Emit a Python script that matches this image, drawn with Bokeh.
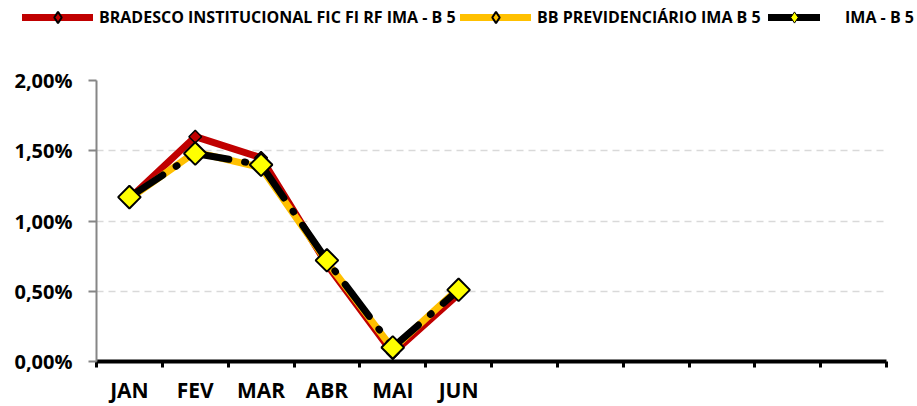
import math
from bokeh.plotting import figure
from bokeh.models import (FixedTicker, CustomJSTickFormatter, Legend, LegendItem,
                          Range1d)
from bokeh.embed import file_html
from bokeh.resources import INLINE

# ---- data ----
months = ["JAN", "FEV", "MAR", "ABR", "MAI", "JUN", "JUL", "AGO", "SET", "OUT", "NOV", "DEZ"]
month_labels = ["JAN", "FEV", "MAR", "ABR", "MAI", "JUN", "", "", "", "", "", ""]
bradesco = [1.16, 1.60, 1.45, 0.69, 0.06, 0.48]
bb_prev = [1.16, 1.49, 1.38, 0.71, 0.09, 0.52]
ima_b5 = [1.17, 1.48, 1.40, 0.72, 0.10, 0.51]
y_ticks = [0.0, 0.5, 1.0, 1.5, 2.0]
series_names = ["BRADESCO INSTITUCIONAL FIC FI RF IMA - B 5",
                "BB PREVIDENCIÁRIO IMA B 5",
                "IMA - B 5"]

x = [months.index(m) + 0.5 for m in months[:len(bradesco)]]

FONT = "Open Sans"
ANG = math.pi / 4
RED, ORANGE, YELLOW = "#C00000", "#FFC000", "#FFFF00"
NAN = float("nan")

LEG_H = 32
p = figure(width=910, height=406 - LEG_H, x_range=Range1d(0, len(months)), y_range=Range1d(0, 2.0),
           output_backend="svg", toolbar_location=None,
           min_border_left=96, min_border_right=24, min_border_top=80 - LEG_H, min_border_bottom=44)
p.outline_line_color = None

# grid
p.xgrid.visible = False
p.ygrid.ticker = FixedTicker(ticks=y_ticks)
p.ygrid.grid_line_color = "#D9D9D9"
p.ygrid.grid_line_dash = "7 5"
p.ygrid.grid_line_width = 1.5

# y axis
ya = p.yaxis[0]
ya.ticker = FixedTicker(ticks=y_ticks)
ya.formatter = CustomJSTickFormatter(code="return tick.toFixed(2).replace('.', ',') + '%';")
ya.axis_line_color = "#868686"
ya.axis_line_width = 2
ya.major_tick_line_color = "#868686"
ya.major_tick_line_width = 2
ya.major_tick_out = 8
ya.major_tick_in = 0
ya.minor_tick_line_color = None
ya.major_label_text_font = FONT
ya.major_label_text_font_style = "bold"
ya.major_label_text_font_size = "20px"
ya.major_label_text_color = "black"
ya.major_label_standoff = 16

# x axis
xa = p.xaxis[0]
xa.ticker = FixedTicker(ticks=[i + 0.5 for i in range(len(months))],
                        minor_ticks=list(range(len(months) + 1)))
xa.major_label_overrides = {i + 0.5: lbl for i, lbl in enumerate(month_labels)}
xa.axis_line_color = "black"
xa.axis_line_width = 4
xa.major_tick_out = 0
xa.major_tick_in = 0
xa.major_tick_line_color = None
xa.minor_tick_out = 6
xa.minor_tick_in = 0
xa.minor_tick_line_color = "black"
xa.minor_tick_line_width = 3
xa.major_label_text_font = FONT
xa.major_label_text_font_style = "bold"
xa.major_label_text_font_size = "21px"
xa.major_label_text_color = "black"
xa.major_label_standoff = 8

# series
p.line(x, bradesco, line_color=RED, line_width=7, line_join="round")
p.scatter(x, bradesco, marker="square", size=9, angle=ANG,
          fill_color=RED, line_color="black", line_width=1.5)
p.line(x, bb_prev, line_color=ORANGE, line_width=7, line_join="round")
p.scatter(x, bb_prev, marker="square", size=10, angle=ANG,
          fill_color=YELLOW, line_color="black", line_width=1.5)
p.line(x, ima_b5, line_color="black", line_width=7, line_dash="40 16 1 16",
       line_cap="round", line_join="round")
p.scatter(x, ima_b5, marker="square", size=16, angle=ANG,
          fill_color=YELLOW, line_color="black", line_width=2)

# ---- legend strip (separate root figure above) ----
lf = figure(width=917, height=LEG_H, x_range=Range1d(0, 917), y_range=Range1d(0, LEG_H),
            output_backend="svg", toolbar_location=None,
            x_axis_location=None, y_axis_location=None, min_border=0)
lf.outline_line_color = None
lf.xgrid.visible = False
lf.ygrid.visible = False

l1 = lf.line([NAN], [NAN], line_color=RED, line_width=7, line_cap="round")
m1 = lf.scatter([NAN], [NAN], marker="diamond", fill_color=RED,
                line_color="black", line_width=2)
l2 = lf.line([NAN], [NAN], line_color=ORANGE, line_width=7, line_cap="round")
m2 = lf.scatter([NAN], [NAN], marker="diamond", fill_color=ORANGE,
                line_color="black", line_width=2)
l3 = lf.line([NAN], [NAN], line_color="black", line_width=7, line_cap="round")
m3 = lf.scatter([NAN], [NAN], marker="diamond", fill_color=YELLOW,
                line_color="black", line_width=1)


def make_legend(name, rends, loc, gw, standoff):
    lg = Legend(items=[LegendItem(label=name, renderers=rends)], location=loc,
                orientation="horizontal", glyph_width=gw, glyph_height=28,
                label_height=20, label_standoff=standoff, padding=0, margin=0,
                spacing=0, border_line_color=None, background_fill_alpha=0,
                label_text_font=FONT, label_text_font_style="bold",
                label_text_font_size="16px", label_text_color="black")
    lf.add_layout(lg, "center")
    return lg


make_legend(series_names[0], [l1, m1], (22, 1), 71, 6)
make_legend(series_names[1], [l2, m2], (460, 1), 71, 6)
make_legend(series_names[2], [l3, m3], (768, 1), 52, 25)

open("out.html", "w").write(file_html([lf, p], INLINE))
